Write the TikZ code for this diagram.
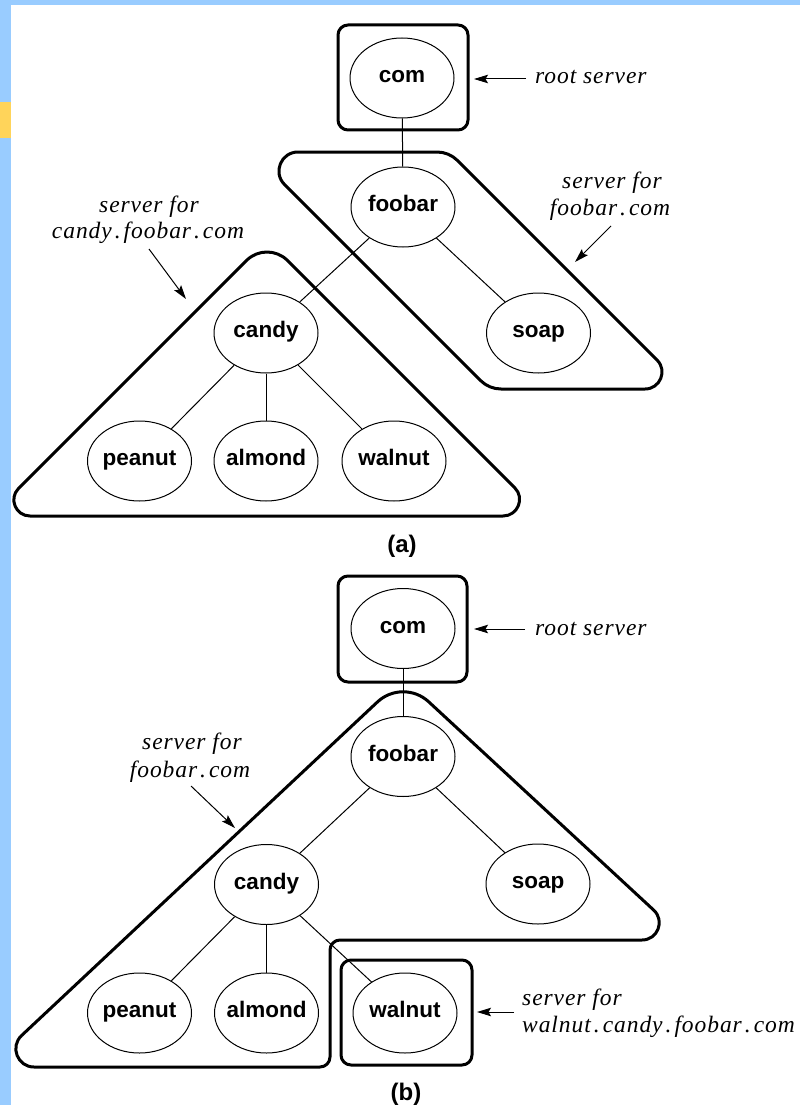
\documentclass[tikz,border=0pt]{standalone}
\usepackage{fontspec}
\setmainfont{Liberation Serif}
\newfontfamily\nodefamily{Liberation Sans}
\newfontfamily\labelfamily{Liberation Serif}[LetterSpace=4.0]
\usetikzlibrary{calc,arrows.meta,shapes.geometric}

\definecolor{frameblue}{RGB}{153,204,255}
\definecolor{tabyellow}{RGB}{255,212,90}

% spaced dot inside domain names
\newcommand\pdot{\kern3pt.\kern3pt}
% zero-width label so every ellipse keeps the same size
\newcommand\nt[1]{\makebox[0pt]{#1}}
% rounded corner: vertex, previous vertex, next vertex, cut length, handle fraction
\newcommand\roundcorner[5]{%
  \coordinate (#1-in) at ($(#1)!#4!(#2)$);
  \coordinate (#1-out) at ($(#1)!#4!(#3)$);
  \coordinate (#1-c1) at ($(#1-in)!#5!(#1)$);
  \coordinate (#1-c2) at ($(#1-out)!#5!(#1)$);
}

\tikzset{
  key/.style={ellipse, draw, line width=1pt, fill=white,
    minimum width=104pt, minimum height=80pt, inner sep=0pt,
    text height=12pt, text depth=3pt,
    font=\nodefamily\bfseries\fontsize{22.5}{24}\selectfont},
  link/.style={line width=1pt},
  zone/.style={line width=3pt, line join=round},
  pointer/.style={line width=1pt, -{Stealth[length=14pt,width=8.5pt,inset=2.5pt]}},
  note/.style={font=\labelfamily\itshape\fontsize{23.5}{26}\selectfont, inner sep=0pt},
  tag/.style={font=\nodefamily\bfseries\fontsize{24}{26}\selectfont, inner sep=0pt}
}

\begin{document}
\begin{tikzpicture}[x=1pt,y=-1pt]
\useasboundingbox (0,0) rectangle (800,1105);
\fill[white] (0,0) rectangle (800,1105);
\fill[frameblue] (0,0) rectangle (11,1105);
\fill[frameblue] (0,0) rectangle (800,5);
\fill[tabyellow] (0,102) rectangle (11,138);

% ---------------- (a) ----------------
% zone of foobar.com (parallelogram)
\coordinate (pa1) at (252,152);
\coordinate (pa2) at (449,152);
\coordinate (pa3) at (686,389);
\coordinate (pa4) at (489,389);
\roundcorner{pa1}{pa4}{pa2}{46pt}{0.369}
\roundcorner{pa2}{pa1}{pa3}{12pt}{0.640}
\roundcorner{pa3}{pa2}{pa4}{41pt}{0.369}
\roundcorner{pa4}{pa3}{pa1}{12pt}{0.640}
\draw[zone] (pa1-out) -- (pa2-in) .. controls (pa2-c1) and (pa2-c2) .. (pa2-out)
  -- (pa3-in) .. controls (pa3-c1) and (pa3-c2) .. (pa3-out)
  -- (pa4-in) .. controls (pa4-c1) and (pa4-c2) .. (pa4-out)
  -- (pa1-in) .. controls (pa1-c1) and (pa1-c2) .. cycle;

% zone of candy.foobar.com (triangle)
\coordinate (ta1) at (267,240);
\coordinate (ta2) at (543,516);
\coordinate (ta3) at (-9,516);
\roundcorner{ta1}{ta3}{ta2}{29pt}{0.5523}
\roundcorner{ta2}{ta1}{ta3}{40pt}{0.369}
\roundcorner{ta3}{ta2}{ta1}{39pt}{0.369}
\draw[zone] (ta1-out) -- (ta2-in) .. controls (ta2-c1) and (ta2-c2) .. (ta2-out)
  -- (ta3-in) .. controls (ta3-c1) and (ta3-c2) .. (ta3-out)
  -- (ta1-in) .. controls (ta1-c1) and (ta1-c2) .. cycle;

% root zone
\draw[zone, rounded corners=10pt] (338,25) rectangle (468,130);

% name tree
\node[key] (aCom) at (402,78) {\nt{com}};
\node[key] (aFoo) at (403,207) {\nt{foobar}};
\node[key] (aCandy) at (266,333) {\nt{candy}};
\node[key] (aSoap) at (538.5,333) {\nt{soap}};
\node[key] (aPeanut) at (139.5,461) {\nt{peanut}};
\node[key] (aAlmond) at (266,461) {\nt{almond}};
\node[key] (aWalnut) at (394,461) {\nt{walnut}};
\draw[link] (aCom) -- (aFoo);
\draw[link] (aFoo) -- (aCandy);
\draw[link] (aFoo) -- (aSoap);
\draw[link] (aCandy) -- (aPeanut);
\draw[link] (aCandy) -- (aAlmond);
\draw[link] (aCandy) -- (aWalnut);

% annotations
\node[note, anchor=base west] (aRootTxt) at (535,84) {root server};
\coordinate (aRootTail) at (526,79);
\coordinate (aRootTip) at (474,79);
\draw[pointer] (aRootTail) -- (aRootTip);

\node[note, anchor=base] (aFooTxt1) at (612,188) {server for};
\node[note, anchor=base] (aFooTxt2) at (610,215) {foobar\pdot com};
\coordinate (aFooTail) at (611,226);
\coordinate (aFooTip) at (575,262);
\draw[pointer] (aFooTail) -- (aFooTip);

\node[note, anchor=base] (aCanTxt1) at (149,212) {server for};
\node[note, anchor=base] (aCanTxt2) at (148,238) {candy\pdot foobar\pdot com};
\coordinate (aCanTail) at (149,249);
\coordinate (aCanTip) at (186,299);
\draw[pointer] (aCanTail) -- (aCanTip);

\node[tag] (aTag) at (402,546) {(a)};

% ---------------- (b) ----------------
% zone of foobar.com (triangle with a notch)
\coordinate (tb1) at (403,678);
\coordinate (tb2) at (686,940);
\coordinate (tb3) at (330,940);
\coordinate (tb4) at (330,1067);
\coordinate (tb5) at (-12,1067);
\roundcorner{tb1}{tb5}{tb2}{35pt}{0.563}
\roundcorner{tb2}{tb1}{tb3}{44pt}{0.356}
\roundcorner{tb3}{tb2}{tb4}{10pt}{0.5523}
\roundcorner{tb4}{tb3}{tb5}{10pt}{0.5523}
\roundcorner{tb5}{tb4}{tb1}{46pt}{0.357}
\draw[zone] (tb1-out) -- (tb2-in) .. controls (tb2-c1) and (tb2-c2) .. (tb2-out)
  -- (tb3-in) .. controls (tb3-c1) and (tb3-c2) .. (tb3-out)
  -- (tb4-in) .. controls (tb4-c1) and (tb4-c2) .. (tb4-out)
  -- (tb5-in) .. controls (tb5-c1) and (tb5-c2) .. (tb5-out)
  -- (tb1-in) .. controls (tb1-c1) and (tb1-c2) .. cycle;

% root zone and walnut zone
\draw[zone, rounded corners=10pt] (338,576) rectangle (467,682);
\draw[zone, rounded corners=10pt] (341,960) rectangle (472,1065);

% name tree
\node[key] (bCom) at (403,628.5) {\nt{com}};
\node[key] (bFoo) at (403,756.5) {\nt{foobar}};
\node[key] (bCandy) at (266.5,884.5) {\nt{candy}};
\node[key] (bSoap) at (538,884) {\nt{soap}};
\node[key] (bPeanut) at (139.5,1013) {\nt{peanut}};
\node[key] (bAlmond) at (266.5,1013) {\nt{almond}};
\node[key] (bWalnut) at (405,1013) {\nt{walnut}};
\draw[link] (bCom) -- (bFoo);
\draw[link] (bFoo) -- (bCandy);
\draw[link] (bFoo) -- (bSoap);
\draw[link] (bCandy) -- (bPeanut);
\draw[link] (bCandy) -- (bAlmond);
\draw[link] (bCandy) -- (bWalnut);

% annotations
\node[note, anchor=base west] (bRootTxt) at (535,635) {root server};
\coordinate (bRootTail) at (525,629);
\coordinate (bRootTip) at (474,629);
\draw[pointer] (bRootTail) -- (bRootTip);

\node[note, anchor=base] (bFooTxt1) at (192,749) {server for};
\node[note, anchor=base] (bFooTxt2) at (190,777) {foobar\pdot com};
\coordinate (bFooTail) at (191,786);
\coordinate (bFooTip) at (235,828);
\draw[pointer] (bFooTail) -- (bFooTip);

\node[note, anchor=base west] (bWalTxt1) at (522,1005) {server for};
\node[note, anchor=base west] (bWalTxt2) at (522,1032) {walnut\pdot candy\pdot foobar\pdot com};
\coordinate (bWalTail) at (514,1012);
\coordinate (bWalTip) at (477,1012);
\draw[pointer] (bWalTail) -- (bWalTip);

\node[tag] (bTag) at (406,1094) {(b)};
\end{tikzpicture}
\end{document}
